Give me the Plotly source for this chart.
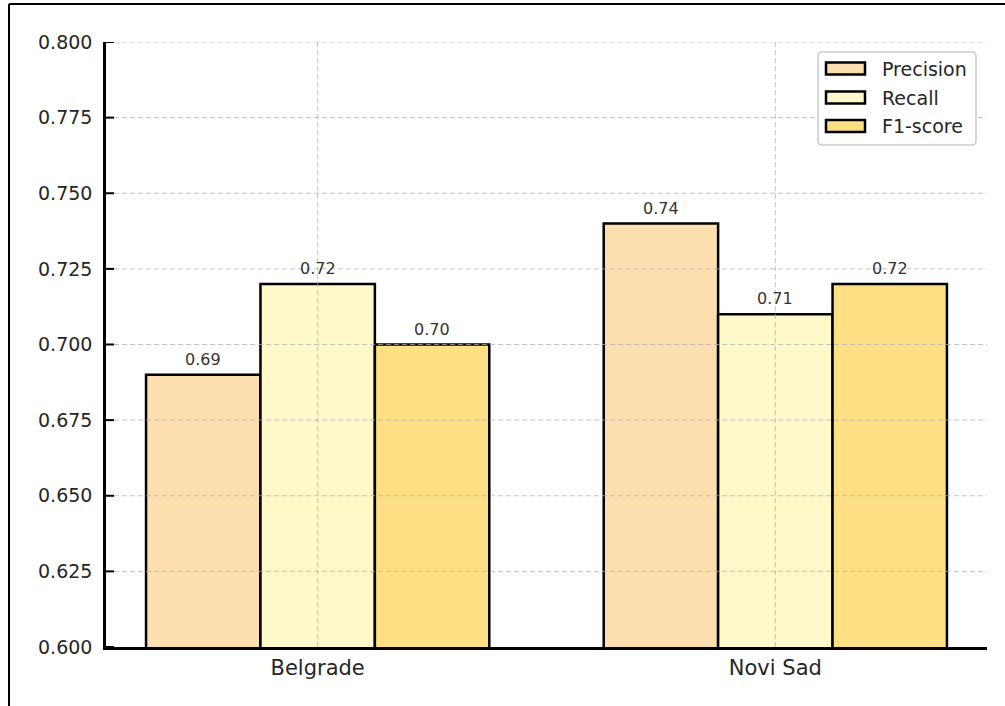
import plotly.graph_objects as go

# Scores per city
cities = ["Belgrade", "Novi Sad"]
precision = [0.69, 0.74]
recall = [0.72, 0.71]
f1_score = [0.70, 0.72]

metric_names = ["Precision", "Recall", "F1-score"]
metric_colors = ["#FDDEAF", "#FFF9C9", "#FEDF84"]

y_ticks = [0.600, 0.625, 0.650, 0.675, 0.700, 0.725, 0.750, 0.775, 0.800]

W, H = 1005, 706
ML, MR, MT, MB = 106, 18, 42, 59
PW, PH = W - ML - MR, H - MT - MB
FONT = "DejaVu Sans"
TXT = "#262626"
BAR_W = 0.25


def px(x):
    return (x - ML) / PW


def py(y):
    return (H - MB - y) / PH


series = [precision, recall, f1_score]
fig = go.Figure()
annotations = []
for j, (name, vals, col) in enumerate(zip(metric_names, series, metric_colors)):
    xs = [i + (j - 1) * BAR_W for i in range(len(cities))]
    fig.add_trace(go.Bar(
        x=xs, y=vals, width=BAR_W, name=name,
        marker=dict(color=col, line=dict(color="black", width=2.5)),
        showlegend=False,
    ))
    for x, v in zip(xs, vals):
        annotations.append(dict(
            x=x, y=v, xref="x", yref="y", text=f"{v:.2f}", showarrow=False,
            yanchor="bottom", yshift=4,
            font=dict(family=FONT, size=16, color="#333333"),
        ))

shapes = []
grid_line = dict(color="rgba(175,175,175,0.75)", width=1, dash="5px,3px")
# horizontal grid
for t in y_ticks[1:]:
    shapes.append(dict(type="line", xref="paper", yref="y", x0=0, x1=1, y0=t, y1=t,
                       line=grid_line, layer="above"))
# vertical grid at category positions
for i in range(len(cities)):
    shapes.append(dict(type="line", xref="x", yref="paper", x0=i, x1=i, y0=0, y1=1,
                       line=grid_line, layer="above"))

# y tick marks pointing into the plot
for t in y_ticks:
    shapes.append(dict(type="line", xref="paper", yref="y", x0=0, x1=px(ML + 8), y0=t, y1=t,
                       line=dict(color="black", width=2), layer="above"))

# legend box with rounded corners
bx0, bx1, by0, by1, r = 818, 976, 52, 145, 4
path = (f"M {px(bx0 + r)},{py(by0)} L {px(bx1 - r)},{py(by0)} "
        f"Q {px(bx1)},{py(by0)} {px(bx1)},{py(by0 + r)} "
        f"L {px(bx1)},{py(by1 - r)} Q {px(bx1)},{py(by1)} {px(bx1 - r)},{py(by1)} "
        f"L {px(bx0 + r)},{py(by1)} Q {px(bx0)},{py(by1)} {px(bx0)},{py(by1 - r)} "
        f"L {px(bx0)},{py(by0 + r)} Q {px(bx0)},{py(by0)} {px(bx0 + r)},{py(by0)} Z")
shapes.append(dict(type="path", xref="paper", yref="paper", path=path,
                   fillcolor="white", line=dict(color="#cccccc", width=1.5), layer="above"))
row_centers = [68.5, 97.5, 126]
for name, col, cy in zip(metric_names, metric_colors, row_centers):
    shapes.append(dict(type="rect", xref="paper", yref="paper",
                       x0=px(826), x1=px(865), y0=py(cy - 6), y1=py(cy + 6),
                       fillcolor=col, line=dict(color="black", width=2.5), layer="above"))
    annotations.append(dict(x=px(880), y=py(cy), xref="paper", yref="paper", text=name,
                            showarrow=False, xanchor="left", yanchor="middle",
                            font=dict(family=FONT, size=19, color=TXT)))

# outer frame (top and left edges)
frame = dict(color="black", width=2)
shapes.append(dict(type="line", xref="paper", yref="paper", x0=px(9), x1=px(W + 5),
                   y0=py(4), y1=py(4), line=frame, layer="above"))
shapes.append(dict(type="line", xref="paper", yref="paper", x0=px(9), x1=px(9),
                   y0=py(4), y1=py(H + 5), line=frame, layer="above"))

fig.update_layout(
    width=W, height=H,
    margin=dict(l=ML, r=MR, t=MT, b=MB, pad=0),
    paper_bgcolor="white", plot_bgcolor="white",
    barmode="overlay",
    shapes=shapes, annotations=annotations,
    font=dict(family=FONT, color=TXT),
    xaxis=dict(
        range=[-0.4625, 1.4625], tickvals=list(range(len(cities))), ticktext=cities,
        showgrid=False, zeroline=False, showline=True, linecolor="black", linewidth=2.5,
        ticks="", tickfont=dict(family=FONT, size=21, color=TXT),
        ticklabelstandoff=0, layer="above traces",
    ),
    yaxis=dict(
        range=[0.6, 0.8], tickvals=y_ticks, ticktext=[f"{t:.3f}" for t in y_ticks],
        showgrid=False, zeroline=False, showline=True, linecolor="black", linewidth=2.5,
        ticks="", tickfont=dict(family=FONT, size=19, color=TXT),
        ticklabelstandoff=7, layer="above traces",
    ),
)

fig.write_html("out.html")
